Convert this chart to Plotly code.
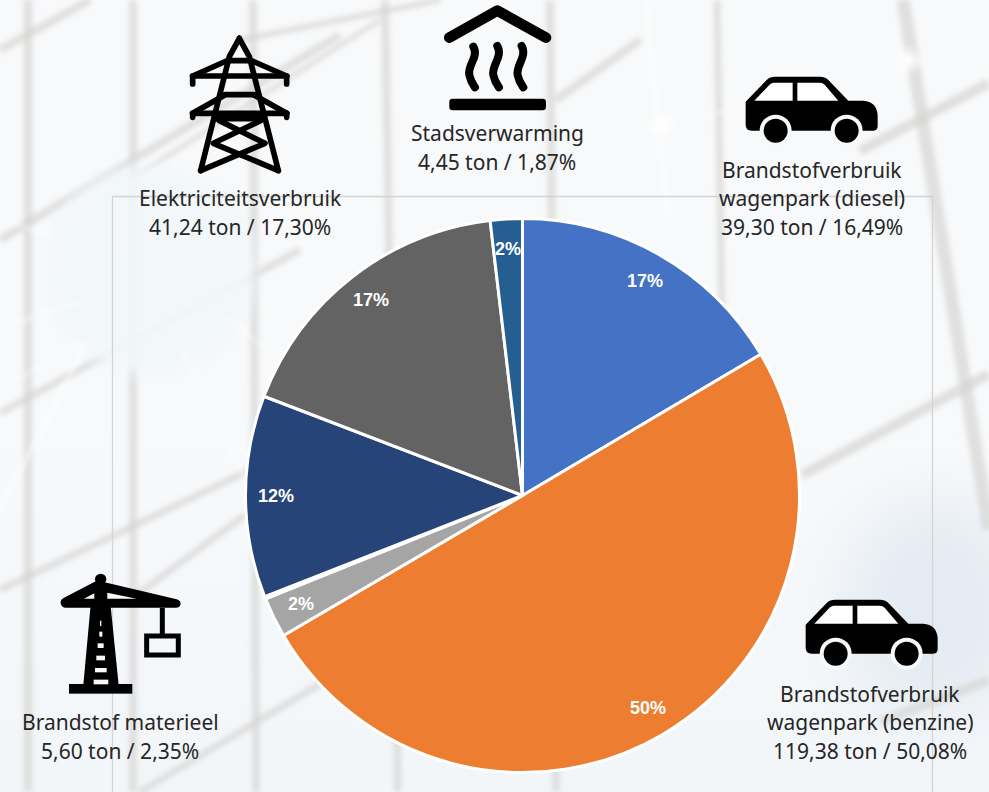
import base64, math
import plotly.graph_objects as go

# ---- data ----
categories = ["Brandstofverbruik wagenpark (diesel)", "Brandstofverbruik wagenpark (benzine)",
              "Brandstof materieel", "(smal segment)", "(niet benoemd)",
              "Elektriciteitsverbruik", "Stadsverwarming"]
tons = [39.30, 119.38, 5.60, 0.30, 28.10, 41.24, 4.45]
colors = ["#4472C4", "#ED7D31", "#A5A5A5", "#FFFFFF", "#264478", "#636363", "#255E91"]
pct_labels = ["17%", "50%", "2%", "", "12%", "17%", "2%"]

caption_lines = [
    ("Stadsverwarming", 497, 133), ("4,45 ton / 1,87%", 497, 162),
    ("Elektriciteitsverbruik", 240, 198), ("41,24 ton / 17,30%", 240, 227),
    ("Brandstofverbruik", 812, 170), ("wagenpark (diesel)", 812, 198), ("39,30 ton / 16,49%", 812, 227),
    ("Brandstofverbruik", 870, 694), ("wagenpark (benzine)", 870, 722), ("119,38 ton / 50,08%", 870, 751),
    ("Brandstof materieel", 120, 722), ("5,60 ton / 2,35%", 120, 751),
]

W, H = 989, 792
CX, CY, R = 522.5, 495.5, 277
LABEL_R = 247

# ---- backdrop and icons (decorative artwork) ----
beams = [
    (28, 0, 28, 792, 9), (133, 0, 133, 792, 8), (253, 0, 256, 792, 8), (385, 0, 398, 792, 8),
    (550, 0, 556, 792, 8), (717, 0, 722, 320, 7), (903, 0, 989, 530, 13),
    (0, 50, 90, 0, 8), (0, 240, 340, 35, 8), (0, 413, 300, 250, 7), (0, 590, 250, 470, 7),
    (130, 600, 245, 515, 7), (556, 100, 640, 40, 8), (140, 792, 460, 600, 7),
    (802, 475, 989, 374, 10), (860, 151, 989, 83, 10), (880, 722, 989, 680, 9),
    (240, 40, 440, 0, 6), (130, 180, 380, 20, 5),
]
thin = [
    (645, 0, 668, 220, 3), (662, 125, 560, 150, 2), (662, 125, 800, 95, 2), (908, 60, 830, 10, 2),
    (908, 60, 989, 75, 2), (908, 60, 860, 125, 2), (85, 300, 10, 325, 2), (85, 340, 0, 390, 2),
    (85, 345, 0, 510, 3), (180, 345, 250, 490, 2), (225, 315, 260, 345, 2), (0, 220, 50, 235, 2),
]
beam_svg = "".join(f'<line x1="{a}" y1="{b}" x2="{c}" y2="{d}" stroke-width="{w}"/>' for a, b, c, d, w in beams)
thin_svg = "".join(f'<line x1="{a}" y1="{b}" x2="{c}" y2="{d}" stroke-width="{w}"/>' for a, b, c, d, w in thin)

car = '''<path fill="#000" d="M137,125 L200,60 Q210,50 225,50 L360,50 Q375,50 385,60 L445,122 L490,122
Q530,125 533,165 L533,198 Q533,212 520,212 L155,212 Q137,212 137,195 Z"/>
<path fill="#fff" d="M163,122 L278,122 L278,68 L222,68 Q215,68 210,73 Z M292,68 L360,68 Q368,68 374,74 L415,122 L292,122 Z"/>
<circle cx="227" cy="212" r="48" fill="#f6f8fa"/><circle cx="440" cy="212" r="48" fill="#f6f8fa"/>
<circle cx="227" cy="212" r="36" fill="#000"/><circle cx="440" cy="212" r="36" fill="#000"/>'''

pylon = '''<g fill="none" stroke="#000" stroke-width="17" stroke-linecap="round" stroke-linejoin="round">
<path d="M328,115 L298,170 L212,512 M328,115 L358,170 L445,512"/>
<path d="M296,182 H360 M188,228 H470 M285,284 H372 M188,340 H470 M262,356 H395"/>
<path d="M188,228 L296,180 M470,228 L360,180 M188,340 L285,285 M470,340 L372,285"/>
<path d="M188,228 V252 M470,228 V252 M188,340 V352 M470,340 V352"/>
<path d="M268,362 L405,430 L212,512 M392,362 L250,430 L445,512"/></g>'''

heat = '''<g fill="none" stroke="#000" stroke-linecap="round" stroke-linejoin="round">
<path stroke-width="32" d="M958,113 L1102,32 L1248,113"/>
<path stroke-width="24" d="M1030,140 C1048,170 1012,195 1018,225 C1022,245 1030,255 1035,262"/>
<path stroke-width="24" d="M1102,138 C1120,170 1084,195 1090,225 C1094,245 1102,255 1107,262"/>
<path stroke-width="24" d="M1175,138 C1193,170 1157,195 1163,225 C1167,245 1175,255 1180,262"/></g>
<rect x="958" y="296" width="290" height="35" rx="10" fill="#000"/>'''

ladder = "".join(f'<rect x="{a}" y="{b}" width="{c}" height="{d}" fill="#f6f8fa"/>' for a, b, c, d in
                 [(300, 182, 4, 16), (298, 215, 9, 15), (293, 250, 18, 14), (289, 287, 26, 14),
                  (285, 324, 35, 13), (281, 359, 44, 14)])
crane = f'''<path fill="#000" d="M278,70 L325,70 L356,375 L250,375 Z"/>
<circle cx="302" cy="58" r="17" fill="#000"/>
<rect x="207" y="372" width="190" height="29" fill="#000"/>
<path fill="#000" d="M182,130 Q180,118 195,112 L290,62 L320,68 L530,118 Q542,122 542,131 Q540,143 528,143 L195,143 Q184,142 182,130 Z"/>
<path fill="#f6f8fa" d="M252,116 L283,100 L283,116 Z M322,98 L410,116 L322,116 Z"/>
{ladder}
<path fill="none" stroke="#000" stroke-width="15" d="M487,143 V228 M440,228 H535 V285 H440 Z"/>'''

svg = f'''<svg xmlns="http://www.w3.org/2000/svg" width="{W}" height="{H}" viewBox="0 0 {W} {H}">
<defs>
<filter id="b" x="-20%" y="-20%" width="140%" height="140%"><feGaussianBlur stdDeviation="2.4"/></filter>
<filter id="c" x="-50%" y="-50%" width="200%" height="200%"><feGaussianBlur stdDeviation="7"/></filter>
<filter id="h" x="-50%" y="-50%" width="200%" height="200%"><feGaussianBlur stdDeviation="30"/></filter>
<radialGradient id="g"><stop offset="0" stop-color="#fff"/><stop offset="1" stop-color="#fff" stop-opacity="0"/></radialGradient>
<linearGradient id="bg" x1="0" y1="0" x2="0" y2="1"><stop offset="0" stop-color="#f8f9fa"/><stop offset="0.55" stop-color="#f7f9fb"/><stop offset="1" stop-color="#f3f6f9"/></linearGradient>
</defs>
<rect width="{W}" height="{H}" fill="url(#bg)"/>
<ellipse cx="935" cy="610" rx="90" ry="110" fill="#e4ebf2" filter="url(#h)"/>
<g stroke="#d4d2cf" stroke-opacity="0.65" filter="url(#b)">{beam_svg}</g>
<circle cx="150" cy="270" r="105" fill="#f2f7fa" fill-opacity="0.9" filter="url(#c)"/>
<g stroke="#ffffff" stroke-opacity="0.8" filter="url(#b)">{thin_svg}</g>
<circle cx="662" cy="125" r="16" fill="url(#g)"/><circle cx="908" cy="60" r="16" fill="url(#g)"/>
<path d="M112.5,792 V196.5 H932.5 V792" fill="none" stroke="#d4d4d4" stroke-width="1.3"/>
<g transform="translate(130,0) scale(0.3333)">{pylon}{heat}</g>
<g transform="translate(700,60) scale(0.3333)">{car}</g>
<g transform="translate(760,583) scale(0.3333)">{car}</g>
<g transform="translate(0,560) scale(0.3333)">{crane}</g>
</svg>'''
uri = "data:image/svg+xml;base64," + base64.b64encode(svg.encode()).decode()

fig = go.Figure(go.Pie(
    labels=categories, values=tons, sort=False, direction="clockwise", rotation=0,
    marker=dict(colors=colors, line=dict(color="#FFFFFF", width=3)),
    textinfo="none", hoverinfo="label+value", showlegend=False,
    domain=dict(x=[(CX - R) / W, (CX + R) / W], y=[1 - (CY + R) / H, 1 - (CY - R) / H]),
))

annotations = []
total = sum(tons)
cum = 0.0
for value, label in zip(tons, pct_labels):
    mid = (cum + value / 2) / total * 2 * math.pi
    cum += value
    if label:
        annotations.append(dict(
            x=(CX + LABEL_R * math.sin(mid)) / W, y=1 - (CY - LABEL_R * math.cos(mid)) / H,
            xref="paper", yref="paper", showarrow=False, xanchor="center", yanchor="middle",
            text=label,
            font=dict(family="Liberation Sans", size=18, color="#FFFFFF", weight="bold")))
for text, x, y in caption_lines:
    annotations.append(dict(
        x=x / W, y=1 - y / H, xref="paper", yref="paper", showarrow=False,
        xanchor="center", yanchor="middle", text=text,
        font=dict(family="Noto Sans", size=21, color="#262626")))

fig.update_layout(
    width=W, height=H, margin=dict(l=0, r=0, t=0, b=0),
    paper_bgcolor="#f7f9fb", annotations=annotations,
    images=[dict(source=uri, xref="paper", yref="paper", x=0, y=1, sizex=1, sizey=1,
                 xanchor="left", yanchor="top", sizing="stretch", layer="below")],
)
fig.write_html("out.html", config={"displayModeBar": False},
               post_script="document.body.style.margin='0';document.body.style.overflow='hidden';")
